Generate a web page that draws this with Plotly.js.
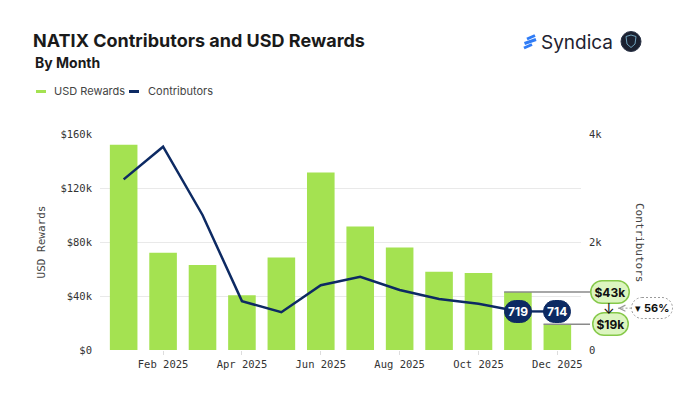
<!DOCTYPE html>
<html>
<head>
<meta charset="utf-8">
<script src="https://cdn.plot.ly/plotly-3.0.1.min.js"></script>
<style>
  html, body { margin: 0; padding: 0; background: #ffffff; }
  #chart { width: 680px; height: 407px; }
</style>
</head>
<body>
<div id="chart"></div>
<script>
// ---------------- DATA ----------------
const months = ['Jan 2025', 'Feb 2025', 'Mar 2025', 'Apr 2025', 'May 2025', 'Jun 2025',
                'Jul 2025', 'Aug 2025', 'Sep 2025', 'Oct 2025', 'Nov 2025', 'Dec 2025'];
const usdRewards = [152000, 72000, 63000, 40500, 68500, 131500, 91500, 76000, 58000, 57000, 43000, 19000];
const contributors = [3160, 3765, 2500, 905, 700, 1200, 1355, 1110, 945, 855, 719, 714];
const xTickLabels = ['Feb 2025', 'Apr 2025', 'Jun 2025', 'Aug 2025', 'Oct 2025', 'Dec 2025'];
const usdTickVals = [0, 40000, 80000, 120000, 160000];
const usdTickText = ['$0', '$40k', '$80k', '$120k', '$160k'];
const contribTickVals = [0, 2000, 4000];
const contribTickText = ['0', '2k', '4k'];

// ---------------- STYLE ----------------
const GREEN = '#a4e251';
const NAVY = '#0d2a63';
const MONO = '"DejaVu Sans Mono", "Liberation Mono", monospace';
const SANS = 'Inter, "Noto Sans", Roboto, sans-serif';

// plot area in pixels (layout only)
const PL = 100, PR = 581, PT = 134, PB = 350, W = 680, H = 407;
const PW = PR - PL, PH = PB - PT;
const px2x = px => (px - PL) / PW;
const px2y = py => (PB - py) / PH;
const xRange = [-0.6, 11.6];
const barWidth = 0.7;
const catToPaper = c => (c - xRange[0]) / (xRange[1] - xRange[0]);
const fmtK = v => '$' + Math.round(v / 1000) + 'k';

const n = months.length;
const iA = n - 2, iB = n - 1;
const vA = usdRewards[iA], vB = usdRewards[iB];
const pct = Math.round((vA - vB) / vA * 100);

const traces = [
  {
    type: 'bar', name: 'USD Rewards', x: months, y: usdRewards,
    marker: { color: GREEN }, width: barWidth, yaxis: 'y', showlegend: false,
    hoverinfo: 'skip'
  },
  {
    type: 'scatter', mode: 'lines', name: 'Contributors', x: months, y: contributors,
    line: { color: NAVY, width: 2.5 }, yaxis: 'y2', showlegend: false,
    hoverinfo: 'skip'
  }
];

const annotations = [
  // subtitle
  { text: 'By Month', xref: 'paper', yref: 'paper', x: px2x(33), y: px2y(62),
    xanchor: 'left', yanchor: 'middle', showarrow: false,
    font: { family: SANS, size: 14, weight: 700, color: '#1a1a1a' } },
  // legend texts
  { text: 'USD Rewards', xref: 'paper', yref: 'paper', x: px2x(52), y: px2y(91),
    xanchor: 'left', yanchor: 'middle', showarrow: false,
    font: { family: SANS, size: 11, color: '#444' } },
  { text: 'Contributors', xref: 'paper', yref: 'paper', x: px2x(146), y: px2y(91),
    xanchor: 'left', yanchor: 'middle', showarrow: false,
    font: { family: SANS, size: 11, color: '#444' } },
  // logo text
  { text: 'Syndica', xref: 'paper', yref: 'paper', x: px2x(539), y: px2y(42),
    xanchor: 'left', yanchor: 'middle', showarrow: false,
    font: { family: SANS, size: 19, color: '#1e2230' } },
  // right axis title
  { text: 'Contributors', xref: 'paper', yref: 'paper', x: px2x(640), y: 0.5,
    xanchor: 'center', yanchor: 'middle', showarrow: false, textangle: 90,
    font: { family: MONO, size: 11, color: '#444' } }
];

// contributor pills on last two points
const pillIdx = [];
[iA, iB].forEach(i => {
  pillIdx.push(annotations.length);
  annotations.push({
    text: '<b>' + contributors[i] + '</b>', x: months[i], y: contributors[i],
    xref: 'x', yref: 'y2', xanchor: 'center', yanchor: 'middle', showarrow: false,
    bgcolor: NAVY, bordercolor: NAVY, borderwidth: 1, borderpad: 3,
    font: { family: SANS, size: 12, color: '#ffffff' }
  });
});
// USD pills
[iA, iB].forEach(i => {
  pillIdx.push(annotations.length);
  annotations.push({
    text: '<b>' + fmtK(usdRewards[i]) + '</b>', x: px2x(610), y: usdRewards[i],
    xref: 'paper', yref: 'y', xanchor: 'center', yanchor: 'middle', showarrow: false,
    bgcolor: '#dcf5c0', bordercolor: '#86c94a', borderwidth: 1.5, borderpad: 3,
    font: { family: SANS, size: 12, color: '#111' }
  });
});
// down arrow between pills
annotations.push({
  text: '↓', x: px2x(609), y: (vA + vB) / 2, xref: 'paper', yref: 'y',
  xanchor: 'center', yanchor: 'middle',
  showarrow: false, font: { family: SANS, size: 14, color: '#111' }
});
// percent change pill with dashed arrow
const pctIdx = annotations.length;
annotations.push({
  text: '▾ <b>' + pct + '%</b>', x: px2x(618), y: (vA + vB) / 2, xref: 'paper', yref: 'y',
  xanchor: 'center', yanchor: 'middle',
  showarrow: true, ax: 34, ay: 0, arrowhead: 5, arrowsize: 1.2, arrowwidth: 1,
  arrowcolor: '#9a9a9a', standoff: 0, bgcolor: '#ffffff', bordercolor: '#9a9a9a',
  borderwidth: 1, borderpad: 3,
  font: { family: SANS, size: 11, color: '#111' }
});

const shapes = [
  // legend symbols
  { type: 'line', xref: 'paper', yref: 'paper', x0: px2x(36), x1: px2x(46), y0: px2y(91.5), y1: px2y(91.5),
    line: { color: GREEN, width: 3 } },
  { type: 'line', xref: 'paper', yref: 'paper', x0: px2x(129), x1: px2x(139), y0: px2y(91.5), y1: px2y(91.5),
    line: { color: NAVY, width: 3 } },
  // connector lines from bars to USD pills
  { type: 'line', xref: 'paper', yref: 'y', x0: catToPaper(iA - barWidth / 2), x1: px2x(590), y0: vA, y1: vA,
    line: { color: '#8a8a8a', width: 1.5 } },
  { type: 'line', xref: 'paper', yref: 'y', x0: catToPaper(iB - barWidth / 2), x1: px2x(590), y0: vB, y1: vB,
    line: { color: '#8a8a8a', width: 1.5 } },
  // Syndica logo mark
  { type: 'line', xref: 'paper', yref: 'paper', x0: px2x(527), y0: px2y(39), x1: px2x(535), y1: px2y(35.5),
    line: { color: '#2f7cf6', width: 3 } },
  { type: 'line', xref: 'paper', yref: 'paper', x0: px2x(524.5), y0: px2y(43.5), x1: px2x(536), y1: px2y(39.5),
    line: { color: '#2f7cf6', width: 3 } },
  { type: 'line', xref: 'paper', yref: 'paper', x0: px2x(524), y0: px2y(48), x1: px2x(532), y1: px2y(44.5),
    line: { color: '#2f7cf6', width: 3 } },
  // dark round badge
  { type: 'circle', xref: 'paper', yref: 'paper', x0: px2x(621), x1: px2x(641), y0: px2y(31.5), y1: px2y(51.5),
    fillcolor: '#1b2130', line: { color: '#2a3346', width: 1 } },
  { type: 'path', xref: 'paper', yref: 'paper',
    path: 'M ' + px2x(626) + ' ' + px2y(36.5) + ' L ' + px2x(631) + ' ' + px2y(35) + ' L ' + px2x(636) + ' ' + px2y(36.5) +
          ' L ' + px2x(635) + ' ' + px2y(44) + ' L ' + px2x(631) + ' ' + px2y(47.5) + ' L ' + px2x(627) + ' ' + px2y(44) + ' Z',
    fillcolor: 'rgba(0,0,0,0)', line: { color: '#6fa3bd', width: 1 } }
];

const layout = {
  width: W, height: H,
  margin: { l: PL, r: W - PR, t: PT, b: H - PB, pad: 0 },
  paper_bgcolor: '#ffffff', plot_bgcolor: '#ffffff',
  showlegend: false,
  title: {
    text: '<b>NATIX Contributors and USD Rewards</b>',
    x: 33 / W, xref: 'container', xanchor: 'left',
    y: 1 - 41 / H, yref: 'container', yanchor: 'middle',
    font: { family: SANS, size: 18, color: '#1a1a1a' }
  },
  xaxis: {
    type: 'category', range: xRange, tickvals: xTickLabels, ticktext: xTickLabels,
    ticks: 'outside', ticklen: 4, tickcolor: '#dddddd', tickwidth: 1,
    showgrid: false, showline: false, zeroline: false,
    tickfont: { family: MONO, size: 10.5, color: '#333' }
  },
  yaxis: {
    range: [0, 160000], tickvals: usdTickVals, ticktext: usdTickText,
    showgrid: true, gridcolor: '#e9e9e9', gridwidth: 1, zeroline: false, showline: false,
    ticks: '', ticklabelstandoff: 7,
    tickfont: { family: MONO, size: 10.5, color: '#333' },
    title: { text: 'USD Rewards', standoff: 12, font: { family: MONO, size: 11, color: '#444' } }
  },
  yaxis2: {
    overlaying: 'y', side: 'right', range: [0, 4000],
    tickvals: contribTickVals, ticktext: contribTickText,
    showgrid: false, zeroline: false, showline: false, ticks: '', ticklabelstandoff: 7,
    tickfont: { family: MONO, size: 10.5, color: '#333' }
  },
  bargap: 0.3,
  annotations: annotations,
  shapes: shapes
};

Plotly.newPlot('chart', traces, layout, { displayModeBar: false, staticPlot: true }).then(gd => {
  const groups = gd.querySelectorAll('.annotation');
  pillIdx.forEach(i => {
    const r = groups[i] && groups[i].querySelector('rect.bg');
    if (r) { const h = parseFloat(r.getAttribute('height')) || 20; r.setAttribute('rx', h / 2); r.setAttribute('ry', h / 2); }
  });
  const g = groups[pctIdx];
  if (g) {
    const r = g.querySelector('rect.bg');
    if (r) {
      const h = parseFloat(r.getAttribute('height')) || 20;
      r.setAttribute('rx', h / 2); r.setAttribute('ry', h / 2);
      r.style.strokeDasharray = '2,2';
    }
    g.querySelectorAll('path').forEach(p => { if (!p.classList.contains('annotation-arrow-head')) p.style.strokeDasharray = '2,2'; });
  }
});
</script>
</body>
</html>
